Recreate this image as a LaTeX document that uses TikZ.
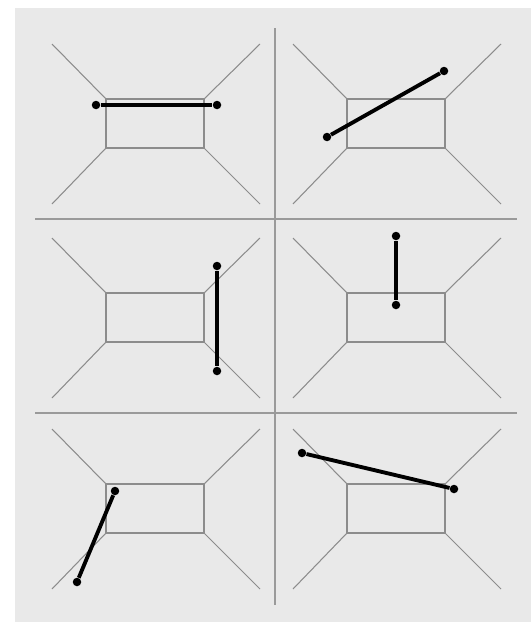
\documentclass[tikz,border=0pt]{standalone}
\usepackage{tikz}
\usepackage{xcolor}
\usetikzlibrary{calc}
\definecolor{colPanel}{HTML}{E9E9E9}
\definecolor{colWall} {HTML}{8C8C8C}
\definecolor{colGrid} {HTML}{9A9A9A}
\definecolor{colBar}  {HTML}{000000}

\begin{document}
\begin{tikzpicture}[x=0.02cm, y=-0.02cm,
		wall/.style={draw=colWall, line width=0.6pt},
		grid/.style={draw=colGrid, line width=0.7pt},
		bar/.style={draw=colBar, line width=2.2pt},
		dot/.style={circle, fill=colBar, inner sep=0pt, minimum size=0.17cm}]
				\useasboundingbox (0,0) rectangle (531,622);
				\fill[colPanel] (15,8) rectangle (531,622);
				% separating lines
				\draw[grid] (275,28) -- (275,605);
				\draw[grid] (35,219) -- (517,219);
				\draw[grid] (35,413) -- (517,413);
				% six rooms
				\foreach \dx/\dy in {0/0, 241/0, 0/194, 241/194, 0/385, 241/385}{
						\begin{scope}[shift={(\dx,\dy)}]
								\draw[wall] (106,99) rectangle (204,148);
								\draw[wall] (52,44) -- (106,99);
								\draw[wall] (260,44) -- (204,99);
								\draw[wall] (52,204) -- (106,148);
								\draw[wall] (260,204) -- (204,148);
						\end{scope}
				}
				% bars
				\node[dot] (b1s) at (96,105) {};
				\node[dot] (b1e) at (217,105) {};
				\draw[bar] (b1s) -- (b1e);
				\node[dot] (b2s) at (327,137) {};
				\node[dot] (b2e) at (444,71) {};
				\draw[bar] (b2s) -- (b2e);
				\node[dot] (b3s) at (217,266) {};
				\node[dot] (b3e) at (217,371) {};
				\draw[bar] (b3s) -- (b3e);
				\node[dot] (b4s) at (396,236) {};
				\node[dot] (b4e) at (396,305) {};
				\draw[bar] (b4s) -- (b4e);
				\node[dot] (b5s) at (115,491) {};
				\node[dot] (b5e) at (77,582) {};
				\draw[bar] (b5s) -- (b5e);
				\node[dot] (b6s) at (302,453) {};
				\node[dot] (b6e) at (454,489) {};
				\draw[bar] (b6s) -- (b6e);
		\end{tikzpicture}
\end{document}
